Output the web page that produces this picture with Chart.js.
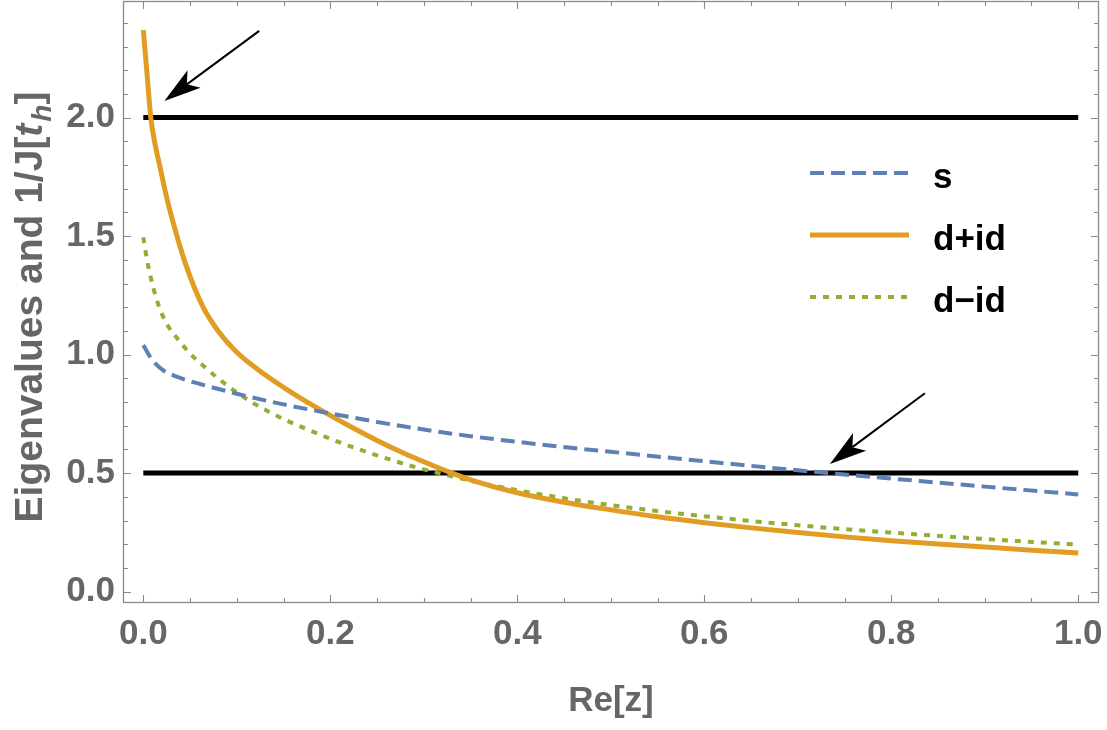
<!DOCTYPE html>
<html>
<head>
<meta charset="utf-8">
<script src="https://cdn.jsdelivr.net/npm/chart.js@4/dist/chart.umd.min.js"></script>
<style>
  body { margin: 0; background: #fff; }
  #wrap { width: 1107px; height: 730px; position: relative; }
</style>
</head>
<body>
<div id="wrap"><canvas id="eigChart"></canvas></div>
<script>
// Re[z] positions and values, one pair of arrays per curve
const sX = [0, 0.01, 0.021, 0.035, 0.05, 0.07, 0.1, 0.15, 0.2, 0.25, 0.3, 0.35, 0.4, 0.45, 0.5, 0.6, 0.7, 0.75, 0.8, 0.9, 1.0];
const sValues = [1.04, 0.975, 0.935, 0.908, 0.888, 0.866, 0.835, 0.79, 0.752, 0.716, 0.684, 0.656, 0.632, 0.61, 0.59, 0.55, 0.512, 0.494, 0.477, 0.443, 0.41];

const dPlusX = [0, 0.004, 0.008, 0.013, 0.018, 0.024, 0.03, 0.045, 0.064, 0.08, 0.1, 0.125, 0.15, 0.17, 0.19, 0.22, 0.25, 0.28, 0.3, 0.325, 0.35, 0.4, 0.45, 0.5, 0.55, 0.6, 0.65, 0.7, 0.75, 0.8, 0.85, 0.9, 0.95, 1.0];
const dPlusValues = [2.37, 2.185, 2.0, 1.88, 1.79, 1.68, 1.585, 1.385, 1.20, 1.10, 1.01, 0.93, 0.862, 0.812, 0.766, 0.70, 0.638, 0.582, 0.548, 0.508, 0.472, 0.417, 0.377, 0.345, 0.316, 0.291, 0.269, 0.249, 0.231, 0.215, 0.201, 0.188, 0.175, 0.163];

const dMinusX = [0, 0.004, 0.008, 0.013, 0.018, 0.025, 0.036, 0.05, 0.065, 0.08, 0.1, 0.12, 0.135, 0.15, 0.168, 0.2, 0.22, 0.25, 0.285, 0.3, 0.35, 0.4, 0.45, 0.5, 0.55, 0.6, 0.7, 0.8, 0.9, 1.0];
const dMinusValues = [1.495, 1.40, 1.325, 1.25, 1.19, 1.13, 1.07, 1.005, 0.95, 0.9, 0.84, 0.79, 0.758, 0.728, 0.697, 0.645, 0.615, 0.575, 0.532, 0.516, 0.468, 0.428, 0.394, 0.365, 0.34, 0.318, 0.28, 0.249, 0.222, 0.198];

// 1/J[t_h] levels, drawn across the whole Re[z] range
const levels = [2.0, 0.5];
const levelRange = [0, 1];

const xTickValues = [0, 0.2, 0.4, 0.6, 0.8, 1.0];
const yTickValues = [0, 0.5, 1.0, 1.5, 2.0];

// arrows: tail and tip in data coordinates
const arrowTails = [[0.124, 2.366], [0.836, 0.837]];
const arrowTips = [[0.0225, 2.07], [0.7344, 0.539]];

const FONT = '"Liberation Sans", Arial, Helvetica, sans-serif';
const GRAY = '#666666';

function pairs(xs, ys) {
    return xs.map((x, i) => ({ x: x, y: ys[i] }));
}

// frame with inward ticks on all four sides, like the original
const frameTicks = {
    id: 'frameTicks',
    beforeDatasetsDraw(chart) {
        const { ctx, chartArea: a, scales: { x, y } } = chart;
        ctx.save();
        ctx.strokeStyle = '#8a8a8a';
        ctx.lineWidth = 1.3;
        ctx.strokeRect(a.left + 0.5, a.top + 0.5, a.right - a.left - 1, a.bottom - a.top - 1);
        ctx.lineWidth = 1.1;
        ctx.beginPath();
        for (let i = 0; i <= 20; i++) {
            const px = Math.round(x.getPixelForValue(i * 0.05)) + 0.5;
            const len = i % 4 === 0 ? 8 : 5;
            ctx.moveTo(px, a.bottom); ctx.lineTo(px, a.bottom - len);
            ctx.moveTo(px, a.top); ctx.lineTo(px, a.top + len);
        }
        for (let i = 0; i <= 24; i++) {
            const py = Math.round(y.getPixelForValue(i * 0.1)) + 0.5;
            const len = i % 5 === 0 ? 8 : 5;
            ctx.moveTo(a.left, py); ctx.lineTo(a.left + len, py);
            ctx.moveTo(a.right, py); ctx.lineTo(a.right - len, py);
        }
        ctx.stroke();
        ctx.restore();
    }
};

// arrows, legend and the y title with its italic subscript
const overlay = {
    id: 'overlay',
    afterDatasetsDraw(chart) {
        const { ctx, chartArea: a, scales: { x, y } } = chart;
        ctx.save();

        ctx.fillStyle = '#000';
        ctx.strokeStyle = '#000';
        arrowTails.forEach((t, i) => {
            const x0 = x.getPixelForValue(t[0]), y0 = y.getPixelForValue(t[1]);
            const x1 = x.getPixelForValue(arrowTips[i][0]), y1 = y.getPixelForValue(arrowTips[i][1]);
            const ang = Math.atan2(y1 - y0, x1 - x0);
            const len = 37, half = 11, notch = 28;
            const c = Math.cos(ang), s = Math.sin(ang);
            ctx.lineWidth = 2;
            ctx.beginPath();
            ctx.moveTo(x0, y0);
            ctx.lineTo(x1 - notch * c, y1 - notch * s);
            ctx.stroke();
            ctx.beginPath();
            ctx.moveTo(x1, y1);
            ctx.lineTo(x1 - len * c - half * s, y1 - len * s + half * c);
            ctx.lineTo(x1 - notch * c, y1 - notch * s);
            ctx.lineTo(x1 - len * c + half * s, y1 - len * s - half * c);
            ctx.closePath();
            ctx.fill();
        });

        // legend
        const rows = [173, 235, 297];
        ctx.font = 'bold 35px ' + FONT;
        ctx.textBaseline = 'alphabetic';
        ctx.textAlign = 'left';
        [0, 1, 2].forEach((di, r) => {
            const ds = chart.data.datasets[di];
            ctx.strokeStyle = ds.borderColor;
            ctx.lineWidth = ds.borderWidth;
            ctx.setLineDash(ds.borderDash || []);
            ctx.beginPath();
            ctx.moveTo(810, rows[r]);
            ctx.lineTo(909, rows[r]);
            ctx.stroke();
            ctx.setLineDash([]);
            ctx.fillStyle = '#000';
            ctx.fillText(ds.label, 933, rows[r] + 15);
        });

        // y axis title
        const parts = [
            { t: 'Eigenvalues and 1/J[', f: 'bold 39px ' + FONT, dy: 0 },
            { t: 't', f: 'italic bold 39px ' + FONT, dy: 0 },
            { t: 'h', f: 'italic bold 28px ' + FONT, dy: 9 },
            { t: ']', f: 'bold 39px ' + FONT, dy: 0 }
        ];
        let total = 0;
        parts.forEach(p => { ctx.font = p.f; p.w = ctx.measureText(p.t).width; total += p.w; });
        ctx.translate(42, (a.top + a.bottom) / 2 + 6);
        ctx.rotate(-Math.PI / 2);
        ctx.fillStyle = GRAY;
        let cx = -total / 2;
        parts.forEach(p => {
            ctx.font = p.f;
            ctx.fillText(p.t, cx, p.dy);
            cx += p.w + (p.t === 't' ? 2 : 0);
        });
        ctx.restore();
    }
};

const datasets = [
    {
        label: 's',
        data: pairs(sX, sValues),
        borderColor: '#5E81B5',
        borderWidth: 4,
        borderDash: [14, 7]
    },
    {
        label: 'd+id',
        data: pairs(dPlusX, dPlusValues),
        borderColor: '#E19C24',
        borderWidth: 5
    },
    {
        label: 'd\u2212id',
        data: pairs(dMinusX, dMinusValues),
        borderColor: '#8FB032',
        borderWidth: 4,
        borderDash: [6, 7]
    }
];
levels.forEach(v => {
    datasets.push({
        label: 'level',
        data: pairs(levelRange, [v, v]),
        borderColor: '#000',
        borderWidth: 5
    });
});
datasets.forEach(d => {
    d.pointRadius = 0;
    d.fill = false;
    d.cubicInterpolationMode = 'monotone';
    d.borderCapStyle = 'butt';
});

new Chart(document.getElementById('eigChart'), {
    type: 'line',
    data: { datasets: datasets },
    options: {
        responsive: true,
        maintainAspectRatio: false,
        animation: false,
        layout: { padding: { top: 1, right: 8, left: 0, bottom: 0 } },
        plugins: { legend: { display: false }, tooltip: { enabled: false } },
        scales: {
            x: {
                type: 'linear',
                min: -0.0217,
                max: 1.0222,
                grid: { display: false, drawTicks: false },
                border: { display: false },
                afterBuildTicks: s => { s.ticks = xTickValues.map(v => ({ value: v })); },
                afterFit: s => {
                    s.height = 127;
                    s.paddingLeft = 0; s.paddingRight = 0; s.paddingTop = 0; s.paddingBottom = 0;
                },
                ticks: {
                    padding: 10,
                    color: GRAY,
                    maxRotation: 0,
                    font: { family: FONT, size: 35, weight: 'bold' },
                    callback: v => v.toFixed(1)
                }
            },
            y: {
                type: 'linear',
                min: -0.048,
                max: 2.492,
                grid: { display: false, drawTicks: false },
                border: { display: false },
                afterBuildTicks: s => { s.ticks = yTickValues.map(v => ({ value: v })); },
                afterFit: s => {
                    s.width = 123;
                    s.paddingLeft = 0; s.paddingRight = 0; s.paddingTop = 0; s.paddingBottom = 0;
                },
                ticks: {
                    padding: 8,
                    color: GRAY,
                    font: { family: FONT, size: 35, weight: 'bold' },
                    callback: v => v.toFixed(1)
                }
            }
        }
    },
    plugins: [frameTicks, overlay, {
        id: 'xTitle',
        afterDraw(chart) {
            const { ctx, chartArea: a } = chart;
            ctx.save();
            ctx.font = 'bold 35px ' + FONT;
            ctx.fillStyle = GRAY;
            ctx.textAlign = 'center';
            ctx.textBaseline = 'alphabetic';
            ctx.fillText('Re[z]', (a.left + a.right) / 2, 711);
            ctx.restore();
        }
    }]
});
</script>
</body>
</html>
